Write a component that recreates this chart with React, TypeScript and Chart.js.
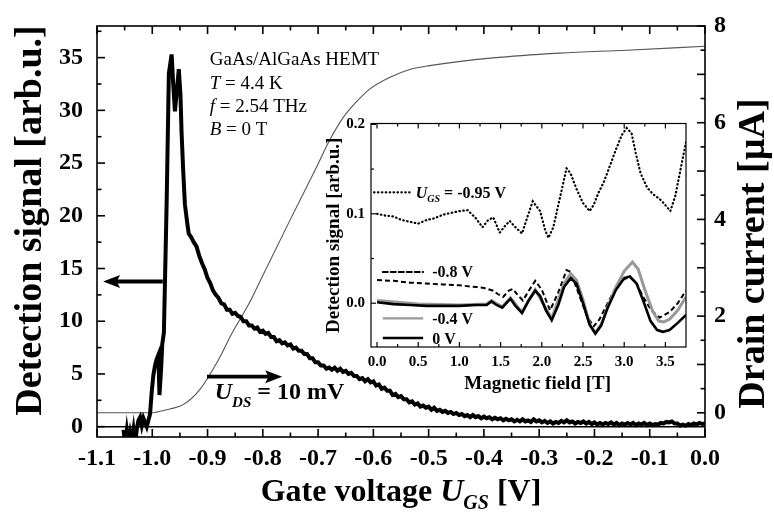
import { useEffect, useRef } from 'react';
import { Chart, registerables } from 'chart.js';

Chart.register(...registerables);

const SERIF = "'Liberation Serif', 'Times New Roman', serif";

// main panel: detection signal [arb.u.] vs gate voltage [V]
const detectionSignal: [number, number][] = [
  [-1.052, -0.3], [-1.049, -1.8], [-1.046, -0.4], [-1.043, -1.6], [-1.04, -0.6], [-1.037, -1.4],
  [-1.034, -0.3], [-1.031, -1.7], [-1.028, -0.2], [-1.025, 0.6], [-1.022, 0.9], [-1.019, 0.1],
  [-1.016, 0.8], [-1.013, 0.4], [-1.01, 0.0], [-1.007, 0.6], [-1.004, 1.2], [-1.001, 3.3],
  [-0.998, 4.9], [-0.995, 5.8], [-0.992, 6.4], [-0.989, 6.8], [-0.987, 3.0], [-0.984, 5.5],
  [-0.982, 7.8], [-0.979, 8.9], [-0.974, 21.2], [-0.97, 33.5], [-0.965, 35.3], [-0.962, 32.4],
  [-0.959, 29.9], [-0.956, 31.6], [-0.952, 33.9], [-0.949, 31.5], [-0.947, 27.9], [-0.944, 24.2],
  [-0.941, 21.1], [-0.937, 19.4], [-0.934, 18.3],
  [-0.93, 18.0], [-0.925, 17.5], [-0.92, 17.1], [-0.915, 16.2], [-0.91, 15.5], [-0.905, 14.9],
  [-0.9, 14.1], [-0.895, 13.6], [-0.89, 12.9], [-0.885, 12.5], [-0.88, 12.2], [-0.875, 11.7],
  [-0.87, 11.6], [-0.865, 11.1], [-0.86, 11.1], [-0.855, 10.7], [-0.85, 10.8], [-0.845, 10.5],
  [-0.84, 10.4], [-0.835, 10.0], [-0.83, 10.0], [-0.825, 9.6], [-0.82, 9.6], [-0.815, 9.3],
  [-0.81, 9.4], [-0.805, 9.0], [-0.8, 9.1], [-0.795, 8.8], [-0.79, 8.9], [-0.785, 8.5],
  [-0.78, 8.5], [-0.775, 8.1], [-0.77, 8.2], [-0.765, 7.9], [-0.76, 8.0], [-0.755, 7.7],
  [-0.75, 7.8], [-0.745, 7.4], [-0.74, 7.5], [-0.735, 7.2], [-0.73, 7.2], [-0.725, 6.9],
  [-0.72, 6.9], [-0.715, 6.5], [-0.71, 6.5], [-0.705, 6.1], [-0.7, 6.1], [-0.695, 5.8],
  [-0.69, 5.8], [-0.685, 5.5], [-0.68, 5.6], [-0.675, 5.4], [-0.67, 5.6], [-0.665, 5.3],
  [-0.66, 5.5], [-0.655, 5.2], [-0.65, 5.3], [-0.645, 5.0], [-0.64, 5.1], [-0.635, 4.8],
  [-0.63, 4.8], [-0.625, 4.5], [-0.62, 4.6], [-0.615, 4.3], [-0.61, 4.5], [-0.605, 4.2],
  [-0.6, 4.3], [-0.595, 3.9], [-0.59, 4.0], [-0.585, 3.6], [-0.58, 3.7], [-0.575, 3.4],
  [-0.57, 3.4], [-0.565, 3.0], [-0.56, 3.1], [-0.555, 2.8], [-0.55, 2.9], [-0.545, 2.6],
  [-0.54, 2.6], [-0.535, 2.3], [-0.53, 2.4], [-0.525, 2.1], [-0.52, 2.2], [-0.515, 1.9],
  [-0.51, 2.0], [-0.505, 1.8], [-0.5, 1.9], [-0.495, 1.6], [-0.49, 1.8], [-0.485, 1.5],
  [-0.48, 1.6], [-0.475, 1.4], [-0.47, 1.5], [-0.465, 1.3], [-0.46, 1.4], [-0.455, 1.2],
  [-0.45, 1.3], [-0.445, 1.1], [-0.44, 1.2], [-0.435, 1.0], [-0.43, 1.1], [-0.425, 0.9],
  [-0.42, 1.1], [-0.415, 0.9], [-0.41, 1.0], [-0.405, 0.8], [-0.4, 0.95], [-0.395, 0.8],
  [-0.39, 0.9], [-0.385, 0.7], [-0.38, 0.85], [-0.375, 0.7], [-0.37, 0.8], [-0.365, 0.6],
  [-0.36, 0.75], [-0.355, 0.6], [-0.35, 0.7], [-0.345, 0.5], [-0.34, 0.65], [-0.335, 0.5],
  [-0.33, 0.7], [-0.325, 0.5], [-0.32, 0.6], [-0.315, 0.45], [-0.31, 0.7], [-0.305, 0.5],
  [-0.3, 0.6], [-0.295, 0.4], [-0.29, 0.55], [-0.285, 0.35], [-0.28, 0.5], [-0.275, 0.3],
  [-0.27, 0.45], [-0.265, 0.35], [-0.26, 0.55], [-0.255, 0.4], [-0.25, 0.6], [-0.245, 0.4],
  [-0.24, 0.5], [-0.235, 0.3], [-0.23, 0.45], [-0.225, 0.35], [-0.22, 0.5], [-0.215, 0.3],
  [-0.21, 0.45], [-0.205, 0.25], [-0.2, 0.4], [-0.195, 0.2], [-0.19, 0.35], [-0.185, 0.2],
  [-0.18, 0.35], [-0.175, 0.25], [-0.17, 0.4], [-0.165, 0.2], [-0.16, 0.35], [-0.155, 0.15],
  [-0.15, 0.3], [-0.145, 0.2], [-0.14, 0.35], [-0.135, 0.2], [-0.13, 0.35], [-0.125, 0.15],
  [-0.12, 0.3], [-0.115, 0.2], [-0.11, 0.35], [-0.105, 0.15], [-0.1, 0.3], [-0.095, 0.15],
  [-0.09, 0.25], [-0.085, 0.2], [-0.08, 0.35], [-0.075, 0.3], [-0.07, 0.45], [-0.065, 0.4],
  [-0.06, 0.5], [-0.055, 0.3], [-0.05, 0.3], [-0.045, 0.1], [-0.04, 0.2], [-0.035, 0.1],
  [-0.03, 0.25], [-0.025, 0.15], [-0.02, 0.3], [-0.015, 0.2], [-0.01, 0.35], [-0.005, 0.25],
  [0.0, 0.3],
];

// drain current [µA] vs gate voltage [V]
const drainCurrent: [number, number][] = [
  [-1.1, 0], [-1.0, 0], [-0.991, 0.02], [-0.968, 0.08], [-0.944, 0.17], [-0.914, 0.48],
  [-0.883, 1.04], [-0.856, 1.64], [-0.823, 2.3], [-0.8, 2.84], [-0.751, 3.98], [-0.702, 5.1],
  [-0.679, 5.64], [-0.655, 6.1], [-0.63, 6.44], [-0.606, 6.7], [-0.57, 6.94], [-0.534, 7.1],
  [-0.498, 7.18], [-0.384, 7.34], [-0.263, 7.44], [-0.142, 7.5], [0.0, 7.58],
];

// inset: detection signal vs magnetic field [T] for four gate voltages
const fieldSweep095: [number, number][] = [
  [0.0, 0.1], [0.1, 0.098], [0.2, 0.097], [0.3, 0.093], [0.4, 0.091], [0.5, 0.089], [0.6, 0.093],
  [0.7, 0.095], [0.8, 0.099], [0.9, 0.101], [1.0, 0.103], [1.1, 0.104], [1.2, 0.095], [1.28, 0.085],
  [1.35, 0.093], [1.41, 0.096], [1.49, 0.079], [1.55, 0.086], [1.61, 0.092], [1.68, 0.085],
  [1.76, 0.078], [1.82, 0.095], [1.89, 0.114], [1.98, 0.103], [2.04, 0.082], [2.08, 0.073],
  [2.14, 0.085], [2.2, 0.11], [2.24, 0.126], [2.3, 0.151], [2.35, 0.145], [2.42, 0.128],
  [2.5, 0.112], [2.58, 0.103], [2.63, 0.11], [2.68, 0.122], [2.75, 0.135], [2.82, 0.152],
  [2.9, 0.172], [2.97, 0.188], [3.03, 0.196], [3.09, 0.19], [3.14, 0.168], [3.2, 0.145],
  [3.28, 0.129], [3.35, 0.122], [3.45, 0.115], [3.56, 0.103], [3.62, 0.12], [3.68, 0.148],
  [3.75, 0.18],
];
const fieldSweep08: [number, number][] = [
  [0.0, 0.026], [0.2, 0.025], [0.4, 0.023], [0.6, 0.022], [0.8, 0.021], [1.0, 0.02], [1.21, 0.018],
  [1.3, 0.017], [1.41, 0.014], [1.47, 0.01], [1.53, 0.007], [1.6, 0.014], [1.65, 0.016], [1.7, 0.01],
  [1.77, 0.003], [1.85, 0.015], [1.92, 0.025], [2.0, 0.015], [2.1, -0.008], [2.2, 0.012],
  [2.3, 0.037], [2.35, 0.035], [2.45, 0.01], [2.55, -0.015], [2.63, -0.026], [2.7, -0.018],
  [2.8, 0.0], [2.9, 0.018], [3.0, 0.027], [3.07, 0.029], [3.15, 0.022], [3.23, 0.007],
  [3.33, -0.008], [3.43, -0.016], [3.55, -0.01], [3.65, 0.0], [3.75, 0.014],
];
const fieldSweep04: [number, number][] = [
  [0.0, 0.003], [0.5, -0.001], [1.0, -0.002], [1.33, -0.001], [1.39, 0.003], [1.52, -0.004],
  [1.62, 0.006], [1.76, -0.01], [1.92, 0.015], [2.12, -0.017], [2.27, 0.022], [2.35, 0.033],
  [2.42, 0.026], [2.5, 0.004], [2.58, -0.023], [2.65, -0.033], [2.72, -0.024], [2.8, -0.004],
  [2.9, 0.018], [3.0, 0.036], [3.1, 0.046], [3.17, 0.038], [3.25, 0.015], [3.35, -0.01],
  [3.42, -0.02], [3.48, -0.021], [3.55, -0.018], [3.65, -0.008], [3.75, 0.007],
];
const fieldSweep0: [number, number][] = [
  [0.0, 0.001], [0.2, -0.001], [0.4, -0.002], [0.6, -0.003], [0.8, -0.003], [1.0, -0.003],
  [1.2, -0.002], [1.33, -0.002], [1.39, 0.002], [1.45, -0.002], [1.52, -0.005], [1.57, 0.0],
  [1.62, 0.005], [1.68, -0.003], [1.76, -0.011], [1.84, 0.003], [1.92, 0.014], [1.98, 0.008],
  [2.05, -0.008], [2.12, -0.019], [2.2, -0.002], [2.27, 0.018], [2.35, 0.028], [2.42, 0.022],
  [2.5, 0.0], [2.58, -0.024], [2.65, -0.034], [2.72, -0.025], [2.8, -0.005], [2.9, 0.015],
  [3.0, 0.028], [3.07, 0.03], [3.15, 0.022], [3.23, 0.003], [3.32, -0.02], [3.4, -0.03],
  [3.47, -0.032], [3.55, -0.03], [3.65, -0.022], [3.75, -0.013],
];

const sampleLines = ['GaAs/AlGaAs HEMT', 'T = 4.4 K', 'f = 2.54 THz', 'B = 0 T'];

type Seg = { text: string; font: string; dy?: number };

const toPoints = (rows: [number, number][]) => rows.map(([x, y]) => ({ x, y }));

function drawRich(ctx: CanvasRenderingContext2D, x: number, y: number, segs: Seg[], center = false) {
  let total = 0;
  segs.forEach((s) => {
    ctx.font = s.font;
    total += ctx.measureText(s.text).width;
  });
  let cx = center ? x - total / 2 : x;
  ctx.textAlign = 'left';
  ctx.textBaseline = 'alphabetic';
  segs.forEach((s) => {
    ctx.font = s.font;
    ctx.fillText(s.text, cx, y + (s.dy || 0));
    cx += ctx.measureText(s.text).width;
  });
}

function drawArrow(ctx: CanvasRenderingContext2D, tail: number, tip: number, y: number) {
  const dir = Math.sign(tip - tail);
  const head = 17;
  ctx.lineWidth = 3.8;
  ctx.beginPath();
  ctx.moveTo(tail, y);
  ctx.lineTo(tip - dir * head * 0.7, y);
  ctx.stroke();
  ctx.beginPath();
  ctx.moveTo(tip, y);
  ctx.lineTo(tip - dir * head, y - 6.5);
  ctx.lineTo(tip - dir * head * 0.8, y);
  ctx.lineTo(tip - dir * head, y + 6.5);
  ctx.closePath();
  ctx.fill();
}

function tickValues(scale: any) {
  const major: number[] = scale.ticks.map((t: any) => t.value);
  const step = major[1] - major[0];
  const minor: number[] = [];
  [major[0] - step, ...major].forEach((m) => {
    const v = m + step / 2;
    if (v > scale.min && v < scale.max) minor.push(v);
  });
  return { major, minor };
}

function drawTicks(ctx: CanvasRenderingContext2D, scale: any, area: any, sides: string[], major: number, minor: number) {
  const { major: mj, minor: mn } = tickValues(scale);
  const put = (vals: number[], len: number) => {
    vals.forEach((v) => {
      const p = scale.getPixelForValue(v);
      sides.forEach((side) => {
        ctx.beginPath();
        if (side === 'bottom') { ctx.moveTo(p, area.bottom); ctx.lineTo(p, area.bottom - len); }
        if (side === 'top') { ctx.moveTo(p, area.top); ctx.lineTo(p, area.top + len); }
        if (side === 'left') { ctx.moveTo(area.left, p); ctx.lineTo(area.left + len, p); }
        if (side === 'right') { ctx.moveTo(area.right, p); ctx.lineTo(area.right - len, p); }
        ctx.stroke();
      });
    });
  };
  put(mj, major);
  put(mn, minor);
}

const mainDecor = {
  id: 'mainDecor',
  beforeDatasetsDraw(chart: any) {
    const { ctx, chartArea: a, scales } = chart;
    const y0 = scales.y.getPixelForValue(0);
    ctx.save();
    ctx.strokeStyle = '#000';
    ctx.lineWidth = 1.5;
    ctx.beginPath();
    ctx.moveTo(a.left, y0);
    ctx.lineTo(a.right, y0);
    ctx.stroke();
    ctx.restore();
  },
  afterDraw(chart: any) {
    const { ctx, chartArea: a, scales } = chart;
    const { x, y, y2 } = scales;
    ctx.save();
    ctx.strokeStyle = '#000';
    ctx.fillStyle = '#000';
    ctx.lineWidth = 1.6;
    ctx.strokeRect(a.left, a.top, a.right - a.left, a.bottom - a.top);
    drawTicks(ctx, x, a, ['bottom', 'top'], 8, 4.5);
    drawTicks(ctx, y, a, ['left'], 8, 4.5);
    drawTicks(ctx, y2, a, ['right'], 8, 4.5);

    // axis titles
    ctx.font = `bold 38px ${SERIF}`;
    ctx.textAlign = 'center';
    ctx.textBaseline = 'middle';
    ctx.save();
    ctx.translate(31, (a.top + a.bottom) / 2 - 11);
    ctx.rotate(-Math.PI / 2);
    ctx.fillText('Detection signal [arb.u.]', 0, 0);
    ctx.restore();
    ctx.save();
    ctx.translate(754, (a.top + a.bottom) / 2 + 22);
    ctx.rotate(-Math.PI / 2);
    ctx.fillText('Drain current [µA]', 0, 0);
    ctx.restore();
    drawRich(ctx, (a.left + a.right) / 2, 501, [
      { text: 'Gate voltage ', font: `bold 32px ${SERIF}` },
      { text: 'U', font: `italic bold 32px ${SERIF}` },
      { text: 'GS', font: `italic bold 20px ${SERIF}`, dy: 8 },
      { text: ' [V]', font: `bold 32px ${SERIF}` },
    ], true);

    // sample description
    const tx = x.getPixelForValue(-0.896);
    const rows = [34.28, 31.98, 29.86, 27.65];
    const reg = `19px ${SERIF}`;
    const ita = `italic 19px ${SERIF}`;
    drawRich(ctx, tx, y.getPixelForValue(rows[0]), [{ text: sampleLines[0], font: reg }]);
    sampleLines.slice(1).forEach((line, i) => {
      drawRich(ctx, tx, y.getPixelForValue(rows[i + 1]), [
        { text: line.slice(0, 1), font: ita },
        { text: line.slice(1), font: reg },
      ]);
    });

    // arrows pointing to the relevant axes
    drawArrow(ctx, x.getPixelForValue(-0.981), x.getPixelForValue(-1.089), y.getPixelForValue(13.77));
    drawArrow(ctx, x.getPixelForValue(-0.901), x.getPixelForValue(-0.765), y.getPixelForValue(4.74));
    drawRich(ctx, x.getPixelForValue(-0.887), y.getPixelForValue(2.62), [
      { text: 'U', font: `italic bold 24px ${SERIF}` },
      { text: 'DS', font: `italic bold 15px ${SERIF}`, dy: 8 },
      { text: ' = 10 mV', font: `bold 24px ${SERIF}` },
    ]);
    ctx.restore();
  },
};

const legendRows = [
  { y: 0.124, from: -0.036, to: 0.41, text: 0.47, label: '-0.95 V', dash: [0.5, 3.4], width: 2.2, color: '#000', ugs: true },
  { y: 0.035, from: 0.07, to: 0.56, text: 0.67, label: '-0.8 V', dash: [5, 3], width: 2, color: '#000', ugs: false },
  { y: -0.017, from: 0.07, to: 0.56, text: 0.67, label: '-0.4 V', dash: [], width: 2.2, color: '#999', ugs: false },
  { y: -0.039, from: 0.07, to: 0.56, text: 0.67, label: '0 V', dash: [], width: 2.6, color: '#000', ugs: false },
];

const insetDecor = {
  id: 'insetDecor',
  afterDraw(chart: any) {
    const { ctx, chartArea: a, scales } = chart;
    const { x, y } = scales;
    ctx.save();
    ctx.strokeStyle = '#000';
    ctx.fillStyle = '#000';
    ctx.lineWidth = 1.2;
    ctx.strokeRect(a.left, a.top, a.right - a.left, a.bottom - a.top);
    drawTicks(ctx, x, a, ['bottom', 'top'], 5, 3);
    drawTicks(ctx, y, a, ['left'], 5, 3);

    ctx.font = `bold 19px ${SERIF}`;
    ctx.textAlign = 'center';
    ctx.textBaseline = 'middle';
    ctx.save();
    ctx.translate(34, (a.top + a.bottom) / 2);
    ctx.rotate(-Math.PI / 2);
    ctx.fillText('Detection signal [arb.u.]', 0, 0);
    ctx.restore();
    drawRich(ctx, x.getPixelForValue(1.95), 279, [{ text: 'Magnetic field [T]', font: `bold 19px ${SERIF}` }], true);

    legendRows.forEach((r) => {
      const py = y.getPixelForValue(r.y);
      ctx.save();
      ctx.strokeStyle = r.color;
      ctx.lineWidth = r.width;
      ctx.lineCap = r.dash.length ? 'round' : 'butt';
      ctx.setLineDash(r.dash);
      ctx.beginPath();
      ctx.moveTo(x.getPixelForValue(r.from), py);
      ctx.lineTo(x.getPixelForValue(r.to), py);
      ctx.stroke();
      ctx.restore();
      const bold = `bold 16px ${SERIF}`;
      const segs: Seg[] = r.ugs
        ? [
            { text: 'U', font: `italic bold 16px ${SERIF}` },
            { text: 'GS', font: `italic bold 10px ${SERIF}`, dy: 4 },
            { text: ' = ' + r.label, font: bold },
          ]
        : [{ text: r.label, font: bold }];
      drawRich(ctx, x.getPixelForValue(r.text), py + 5.5, segs);
    });
    ctx.restore();
  },
};

export default function App() {
  const mainRef = useRef<HTMLCanvasElement>(null);
  const insetRef = useRef<HTMLCanvasElement>(null);

  useEffect(() => {
    document.body.style.margin = '0';
    const tickFont = { family: SERIF, size: 24, weight: 'bold' as const, lineHeight: 1 };

    const main = new Chart(mainRef.current!, {
      type: 'line',
      data: {
        datasets: [
          {
            data: toPoints(detectionSignal),
            borderColor: '#000',
            borderWidth: 4,
            pointRadius: 0,
            yAxisID: 'y',
            order: 0,
            clip: 0,
          },
          {
            data: toPoints(drainCurrent),
            borderColor: '#555',
            borderWidth: 1.1,
            pointRadius: 0,
            cubicInterpolationMode: 'monotone',
            yAxisID: 'y2',
            order: 1,
          },
        ],
      },
      options: {
        responsive: false,
        animation: false,
        events: [],
        layout: { padding: { top: 14, left: 0, right: 0, bottom: 0 } },
        plugins: { legend: { display: false }, tooltip: { enabled: false } },
        scales: {
          x: {
            type: 'linear',
            min: -1.1,
            max: 0,
            grid: { display: false, drawTicks: false },
            border: { display: false },
            afterFit: (s: any) => { s.height = 81; },
            ticks: {
              stepSize: 0.1,
              autoSkip: false,
              maxRotation: 0,
              includeBounds: false,
              padding: 10,
              color: '#000',
              font: tickFont,
              callback: (v: any) => (Math.abs(v) < 1e-9 ? '0.0' : Number(v).toFixed(1)),
            },
          },
          y: {
            type: 'linear',
            position: 'left',
            min: -0.98,
            max: 38,
            grid: { display: false, drawTicks: false },
            border: { display: false },
            afterFit: (s: any) => { s.width = 97; },
            ticks: { stepSize: 5, includeBounds: false, padding: 14, color: '#000', font: tickFont },
          },
          y2: {
            type: 'linear',
            position: 'right',
            min: -0.5,
            max: 8,
            grid: { display: false, drawTicks: false },
            border: { display: false },
            afterFit: (s: any) => { s.width = 69; },
            ticks: { stepSize: 1, includeBounds: false, padding: 9, color: '#000', font: tickFont,
              callback: (v: any) => (Math.round(v) % 2 === 0 ? String(Math.round(v)) : '') },
          },
        },
      },
      plugins: [mainDecor],
    });

    const insetFont = { family: SERIF, size: 15, weight: 'bold' as const, lineHeight: 1 };
    const inset = new Chart(insetRef.current!, {
      type: 'line',
      data: {
        datasets: [
          { data: toPoints(fieldSweep0), borderColor: '#000', borderWidth: 2.6, pointRadius: 0, order: 0 },
          { data: toPoints(fieldSweep04), borderColor: '#999', borderWidth: 3, pointRadius: 0, order: 1 },
          { data: toPoints(fieldSweep08), borderColor: '#000', borderWidth: 2, borderDash: [5, 3], pointRadius: 0, order: 2 },
          {
            data: toPoints(fieldSweep095),
            borderColor: '#000',
            borderWidth: 2.2,
            borderDash: [0.5, 3.4],
            borderCapStyle: 'round',
            pointRadius: 0,
            order: 3,
          },
        ],
      },
      options: {
        responsive: false,
        animation: false,
        events: [],
        layout: { padding: { top: 11, right: 14, left: 0, bottom: 0 } },
        plugins: { legend: { display: false }, tooltip: { enabled: false } },
        scales: {
          x: {
            type: 'linear',
            min: -0.073,
            max: 3.75,
            grid: { display: false, drawTicks: false },
            border: { display: false },
            afterFit: (s: any) => { s.height = 53; },
            ticks: {
              stepSize: 0.5,
              autoSkip: false,
              maxRotation: 0,
              includeBounds: false,
              padding: 8,
              color: '#000',
              font: insetFont,
              callback: (v: any) => Number(v).toFixed(1),
            },
          },
          y: {
            type: 'linear',
            min: -0.049,
            max: 0.201,
            grid: { display: false, drawTicks: false },
            border: { display: false },
            afterFit: (s: any) => { s.width = 71; },
            ticks: { stepSize: 0.1, includeBounds: false, padding: 6, color: '#000', font: insetFont,
              callback: (v: any) => Number(v).toFixed(1) },
          },
        },
      },
      plugins: [insetDecor],
    });

    return () => {
      main.destroy();
      inset.destroy();
    };
  }, []);

  return (
    <div style={{ position: 'relative', width: 774, height: 518, background: '#fff' }}>
      <canvas ref={mainRef} width={774} height={518} style={{ position: 'absolute', left: 0, top: 0 }} />
      <canvas ref={insetRef} width={400} height={290} style={{ position: 'absolute', left: 300, top: 110 }} />
    </div>
  );
}
